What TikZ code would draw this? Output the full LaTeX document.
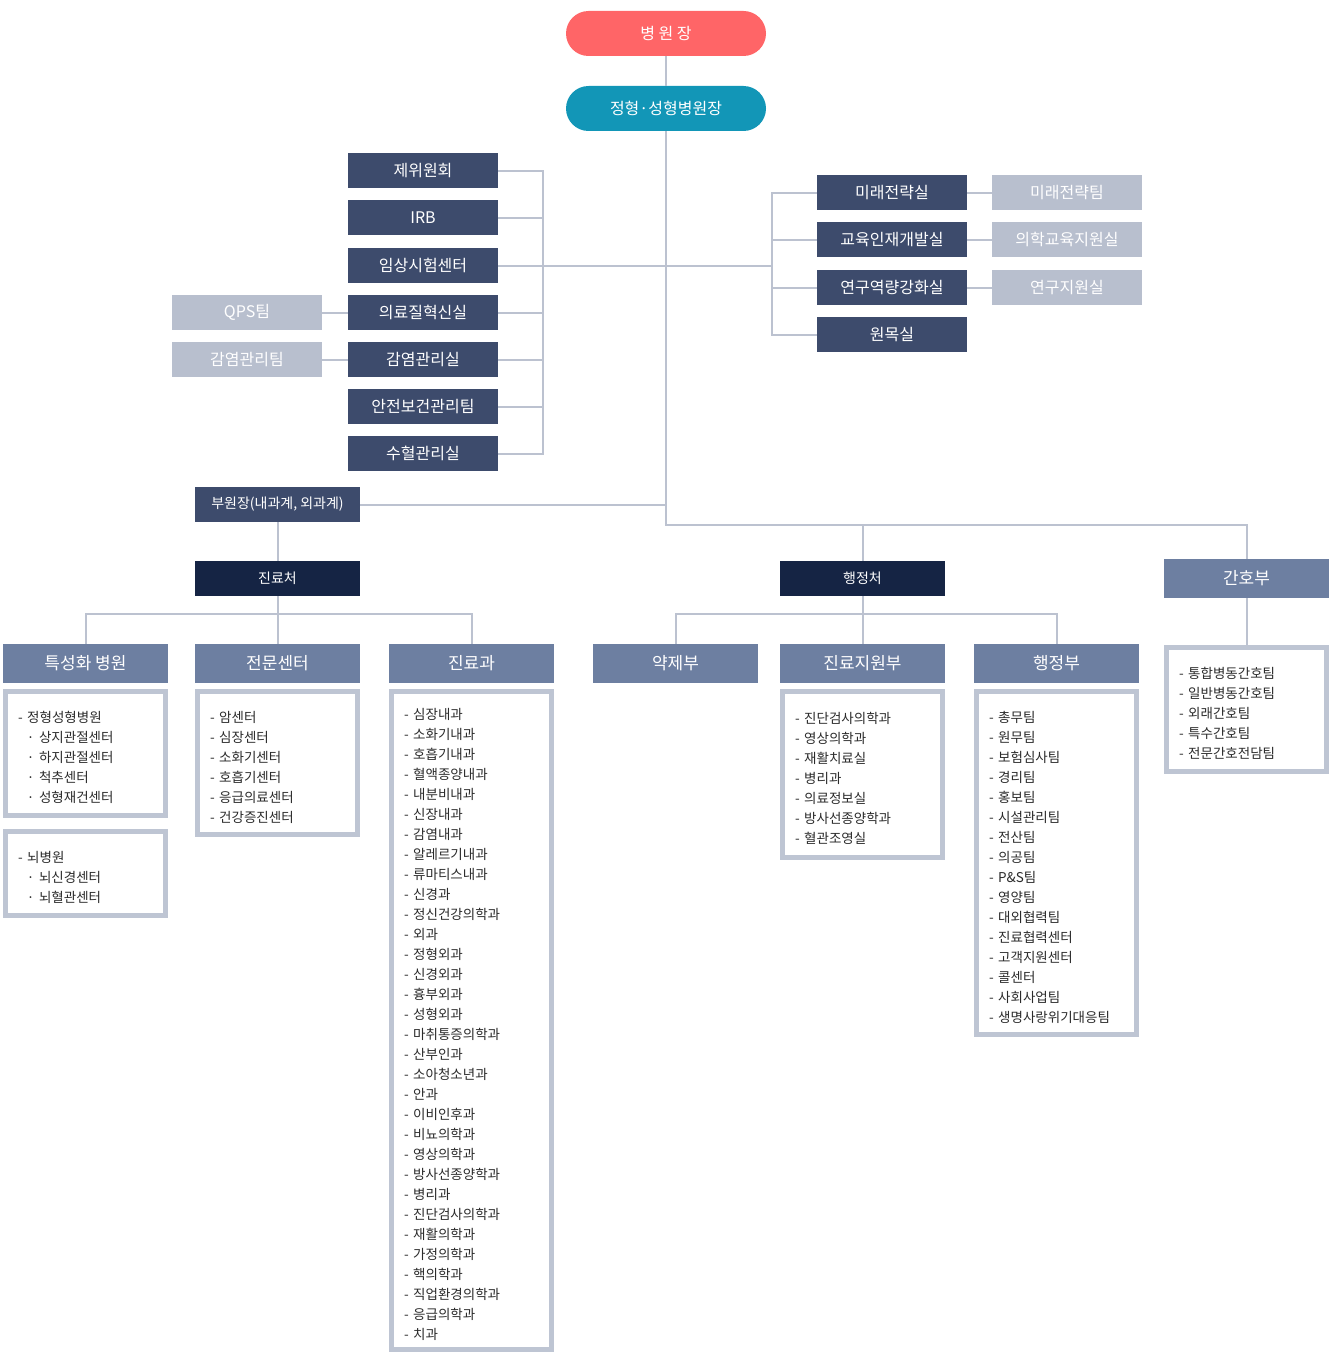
\documentclass[tikz,border=0pt]{standalone}
\usepackage{fontspec}
\setmainfont{Noto Sans CJK KR}
\definecolor{coralc}{HTML}{FF6567}
\definecolor{tealc}{HTML}{1296B7}
\definecolor{slatec}{HTML}{3D4B6C}
\definecolor{litec}{HTML}{B8BFCE}
\definecolor{navyc}{HTML}{152444}
\definecolor{midc}{HTML}{6D7FA1}
\definecolor{linec}{HTML}{BCC2D0}
\definecolor{framec}{HTML}{BEC5D3}
\definecolor{textc}{HTML}{2B2B2B}
\begin{document}
\begin{tikzpicture}[x=1pt,y=-1pt,
	conn/.style={draw=linec,line width=2pt},
	pill/.style={rounded corners=22.5pt,minimum width=200pt,minimum height=45pt,inner sep=0pt,text=white,font=\fontsize{16}{19}\selectfont},
	comm/.style={fill=slatec,text=white,minimum width=150pt,minimum height=35pt,inner sep=0pt,font=\fontsize{16}{19}\selectfont},
	litebox/.style={comm,fill=litec},
	topbox/.style={fill=slatec,text=white,minimum width=165pt,minimum height=35pt,inner sep=0pt,font=\fontsize{14}{17}\selectfont},
	navybox/.style={topbox,fill=navyc},
	hdbox/.style={fill=midc,text=white,minimum width=165pt,minimum height=39pt,inner sep=0pt,font=\fontsize{17}{20}\selectfont},
	listbox/.style={draw=framec,line width=5pt,outer sep=2.5pt,fill=white,anchor=north west,minimum width=160pt,inner xsep=12.5pt,inner ysep=0pt,text width=135pt,align=left,text=textc,font=\fontsize{13.5}{20}\selectfont,execute at begin node={\rule{0pt}{19.5pt}}}]
	\useasboundingbox (0,0) rectangle (1332,1370);

	%top
	\node (top) at (666,33.5) [pill,fill=coralc]{병 원 장};
	\node (chief) at (666,108.5) [pill,fill=tealc]{정형·성형병원장};

	%committees
	\node (c1) at (423,170.5) [comm]{제위원회};
	\node (c2) at (423,217.5) [comm]{IRB};
	\node (c3) at (423,265.5) [comm]{임상시험센터};
	\node (c4) at (423,312.5) [comm]{의료질혁신실};
	\node (c5) at (423,359.5) [comm]{감염관리실};
	\node (c6) at (423,406.5) [comm]{안전보건관리팀};
	\node (c7) at (423,453.5) [comm]{수혈관리실};
	\node (q1) at (247,312.5) [litebox]{QPS팀};
	\node (q2) at (247,359.5) [litebox]{감염관리팀};

	%offices
	\node (r1) at (892,192.5) [comm]{미래전략실};
	\node (r2) at (892,239.5) [comm]{교육인재개발실};
	\node (r3) at (892,287.5) [comm]{연구역량강화실};
	\node (r4) at (892,334.5) [comm]{원목실};
	\node (t1) at (1067,192.5) [litebox]{미래전략팀};
	\node (t2) at (1067,239.5) [litebox]{의학교육지원실};
	\node (t3) at (1067,287.5) [litebox]{연구지원실};

	%divisions
	\node (vice) at (277.5,504.5) [topbox]{부원장(내과계, 외과계)};
	\node (med) at (277.5,578.5) [navybox]{진료처};
	\node (admin) at (862.5,578.5) [navybox]{행정처};
	\node (nurse) at (1246.5,578.5) [hdbox]{간호부};

	\node (sp) at (85.5,663.5) [hdbox]{특성화 병원};
	\node (cen) at (277.5,663.5) [hdbox]{전문센터};
	\node (dept) at (471.5,663.5) [hdbox]{진료과};
	\node (pharm) at (675.5,663.5) [hdbox]{약제부};
	\node (supp) at (862.5,663.5) [hdbox]{진료지원부};
	\node (adm) at (1056.5,663.5) [hdbox]{행정부};

	%lists
	\node (splist1) at (3,689) [listbox,minimum height=124pt]{- 정형성형병원\\
		\hspace*{9pt}· 상지관절센터\\ \hspace*{9pt}· 하지관절센터\\
		\hspace*{9pt}· 척추센터\\ \hspace*{9pt}· 성형재건센터};
	\node (splist2) at (3,829) [listbox,minimum height=84pt]{- 뇌병원\\
		\hspace*{9pt}· 뇌신경센터\\ \hspace*{9pt}· 뇌혈관센터};
	\node (cenlist) at (195,689) [listbox,minimum height=143pt]{- 암센터\\ - 심장센터\\ - 소화기센터\\
		- 호흡기센터\\ - 응급의료센터\\ - 건강증진센터};
	\node (deptlist) at (389,689) [listbox,minimum height=658pt]{- 심장내과\\ - 소화기내과\\ - 호흡기내과\\
		- 혈액종양내과\\ - 내분비내과\\ - 신장내과\\ - 감염내과\\ - 알레르기내과\\ - 류마티스내과\\
		- 신경과\\ - 정신건강의학과\\ - 외과\\ - 정형외과\\ - 신경외과\\ - 흉부외과\\ - 성형외과\\
		- 마취통증의학과\\ - 산부인과\\ - 소아청소년과\\ - 안과\\ - 이비인후과\\ - 비뇨의학과\\
		- 영상의학과\\ - 방사선종양학과\\ - 병리과\\ - 진단검사의학과\\ - 재활의학과\\ - 가정의학과\\
		- 핵의학과\\ - 직업환경의학과\\ - 응급의학과\\ - 치과};
	\node (supplist) at (780,689) [listbox,minimum height=166pt]{- 진단검사의학과\\ - 영상의학과\\
		- 재활치료실\\ - 병리과\\ - 의료정보실\\ - 방사선종양학과\\ - 혈관조영실};
	\node (admlist) at (974,689) [listbox,minimum height=343pt]{- 총무팀\\ - 원무팀\\ - 보험심사팀\\
		- 경리팀\\ - 홍보팀\\ - 시설관리팀\\ - 전산팀\\ - 의공팀\\ - P\&S팀\\ - 영양팀\\ - 대외협력팀\\
		- 진료협력센터\\ - 고객지원센터\\ - 콜센터\\ - 사회사업팀\\ - 생명사랑위기대응팀};
	\node (nlist) at (1164,645) [listbox,minimum height=124pt]{- 통합병동간호팀\\ - 일반병동간호팀\\
		- 외래간호팀\\ - 특수간호팀\\ - 전문간호전담팀};

	%connectors
	\coordinate (lb) at (543,0);
	\coordinate (rb) at (772,0);
	\coordinate (bus) at (1246.5,525);
	\coordinate (mbus) at (277.5,614);
	\coordinate (abus) at (862.5,614);
	\draw[conn] (top) -- (chief);
	\draw[conn] (chief.south) |- (bus) -- (nurse.north);
	\draw[conn] (admin.north) -- (admin.north |- bus);
	\draw[conn] (vice.east) -- (vice.east -| chief.south);
	\draw[conn] (c1.east) -| (c7.east -| lb) -- (c7.east);
	\foreach \n in {c2,c3,c4,c5,c6}
		\draw[conn] (\n.east) -- (\n.east -| lb);
	\draw[conn] (r1.west) -| (r4.west -| rb) -- (r4.west);
	\foreach \n in {r2,r3}
		\draw[conn] (\n.west) -- (\n.west -| rb);
	\draw[conn] (c3.east -| lb) -- (c3.east -| rb);
	\draw[conn] (q1) -- (c4);
	\draw[conn] (q2) -- (c5);
	\draw[conn] (r1) -- (t1);
	\draw[conn] (r2) -- (t2);
	\draw[conn] (r3) -- (t3);
	\draw[conn] (vice) -- (med);
	\draw[conn] (med.south) -- (cen.north);
	\draw[conn] (sp.north) |- (mbus) -| (dept.north);
	\draw[conn] (admin.south) -- (supp.north);
	\draw[conn] (pharm.north) |- (abus) -| (adm.north);
	\draw[conn] (nurse.south) -- (nlist.north);
\end{tikzpicture}
\end{document}
